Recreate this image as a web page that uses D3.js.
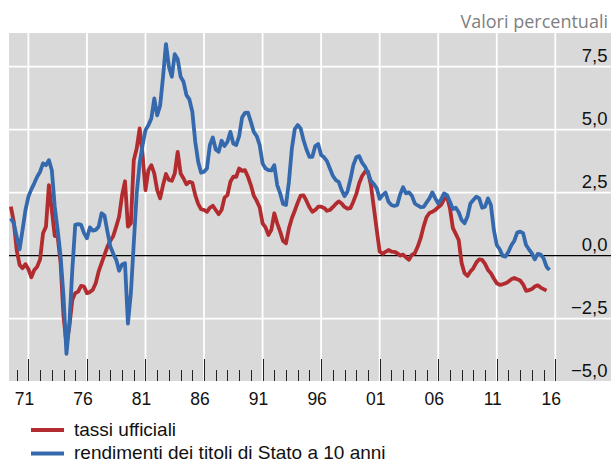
<!DOCTYPE html>
<html>
<head>
<meta charset="utf-8">
<style>
  body { margin: 0; background: #fff; }
  svg { display: block; font-family: "Liberation Sans", Arial, sans-serif; }
</style>
</head>
<body>
<svg width="611" height="464"></svg>
<script src="https://cdn.jsdelivr.net/npm/d3@7"></script>
<script>
// quarterly observations, first one at 1970 Q1
const startYear = 1970;
const stepYears = 0.25;

const tassiUfficiali = [
  1.94, 1.35, 0.22, -0.37, -0.50, -0.34, -0.54, -0.86, -0.57, -0.44,
  -0.15, 0.89, 1.15, 2.80, 1.81, 0.78, 0.75, -0.30, -2.42, -3.50,
  -2.81, -1.76, -1.49, -1.43, -1.20, -1.23, -1.49, -1.45, -1.36, -1.10,
  -0.63, -0.30, 0.03, 0.36, 0.59, 0.78, 1.15, 1.55, 2.40, 2.95,
  1.15, 1.28, 3.79, 4.25, 5.05, 4.00, 2.60, 3.39, 3.59, 3.26,
  2.60, 2.27, 2.80, 3.24, 3.00, 2.97, 3.26, 4.12, 3.26, 3.06,
  2.83, 2.93, 2.89, 2.40, 2.05, 1.84, 1.81, 1.74, 1.90, 1.98,
  1.81, 1.64, 1.81, 2.30, 2.40, 2.93, 3.13, 3.13, 3.46, 3.36,
  3.39, 3.13, 2.80, 2.38, 2.17, 1.92, 1.28, 1.12, 0.82, 1.02,
  1.68, 1.28, 0.95, 0.58, 0.49, 1.08, 1.48, 1.78, 2.10, 2.38,
  2.39, 2.17, 1.92, 1.74, 1.81, 1.94, 1.94, 1.89, 1.78, 1.81,
  1.92, 2.05, 2.15, 2.07, 1.93, 1.86, 1.88, 2.14, 2.44, 2.87,
  3.16, 3.33, 3.33, 2.80, 1.92, 1.02, 0.16, 0.07, 0.15, 0.22,
  0.16, 0.15, 0.09, 0.00, 0.04, -0.07, -0.17, 0.03, 0.09, 0.36,
  0.69, 1.15, 1.52, 1.69, 1.74, 1.81, 1.92, 2.02, 2.23, 2.34,
  1.88, 1.10, 0.86, 0.62, -0.30, -0.70, -0.81, -0.63, -0.50, -0.28,
  -0.15, -0.17, -0.33, -0.57, -0.70, -0.91, -1.10, -1.16, -1.14, -1.10,
  -1.03, -0.94, -0.89, -0.94, -0.99, -1.14, -1.40, -1.37, -1.33, -1.23,
  -1.18, -1.27, -1.33, -1.39
];

const rendimentiTitoli = [
  1.48, 1.28, 0.75, 0.25, 1.02, 1.81, 2.34, 2.63, 2.87, 3.13,
  3.33, 3.66, 3.59, 3.79, 3.39, 1.94, 1.02, -0.04, -1.62, -3.90,
  -2.68, -0.57, 1.22, 1.25, 1.22, 0.89, 0.69, 1.12, 0.99, 1.02,
  1.15, 1.68, 1.59, 0.95, 0.36, 0.07, -0.17, -0.60, -0.35, -0.30,
  -2.70, -1.50, 0.49, 2.47, 3.66, 4.39, 4.98, 5.18, 5.44, 6.24,
  5.57, 5.95, 7.10, 8.40, 7.50, 7.10, 8.00, 7.80, 7.10, 6.90,
  6.37, 6.20, 5.71, 4.52, 3.73, 3.29, 3.33, 3.46, 4.39, 4.69,
  4.21, 4.12, 4.56, 4.35, 4.52, 4.91, 4.45, 4.39, 4.74, 5.48,
  5.67, 5.68, 5.31, 4.91, 4.74, 4.39, 3.66, 3.46, 3.39, 3.38,
  3.59, 2.80, 2.47, 2.05, 2.01, 2.93, 4.25, 5.02, 5.18, 5.05,
  4.58, 4.21, 3.92, 3.92, 4.35, 4.43, 3.99, 3.90, 3.75, 3.46,
  3.17, 3.00, 2.93, 2.60, 2.36, 2.54, 3.03, 3.59, 3.90, 3.95,
  3.69, 3.53, 3.29, 2.97, 2.84, 2.67, 2.25, 2.40, 2.50, 2.14,
  2.01, 1.97, 2.01, 2.43, 2.71, 2.47, 2.51, 2.38, 2.07, 1.99,
  1.92, 1.93, 2.10, 2.27, 2.51, 2.27, 2.07, 2.23, 2.47, 2.40,
  2.14, 1.85, 1.90, 1.72, 1.41, 1.28, 1.55, 2.07, 2.21, 2.34,
  2.27, 1.90, 1.94, 2.27, 2.01, 1.02, 0.42, 0.25, -0.01, -0.04,
  0.15, 0.41, 0.59, 0.91, 0.95, 0.89, 0.42, 0.25, 0.09, -0.15,
  0.07, 0.04, -0.11, -0.44, -0.57
];

const seriesNames = ["tassi ufficiali", "rendimenti dei titoli di Stato a 10 anni"];
const seriesColors = ["#b22b2e", "#3569ae"];
const labelYears = [1971, 1976, 1981, 1986, 1991, 1996, 2001, 2006, 2011, 2016];
const yearLabels = ["71", "76", "81", "86", "91", "96", "01", "06", "11", "16"];
const valueTicks = [-5, -2.5, 0, 2.5, 5, 7.5];
const unitLabel = "Valori percentuali";

const svg = d3.select("svg");
const panel = { left: 9, right: 611, top: 33, bottom: 381 };

// label years sit at mid-year
const x = d3.scaleLinear().domain([1971.5, 2016.5]).range([28.4, 555.3]);
const y = d3.scaleLinear().domain([-5, 7.5]).range([381.5, 66.7]);

svg.append("rect")
  .attr("x", panel.left).attr("y", panel.top)
  .attr("width", panel.right - panel.left).attr("height", panel.bottom - panel.top)
  .attr("fill", "#d9d9d9");

// white grid
svg.append("g").selectAll("line")
  .data(valueTicks.filter(d => d !== 0 && d !== -5))
  .join("line")
  .attr("x1", panel.left).attr("x2", panel.right)
  .attr("y1", d => y(d)).attr("y2", d => y(d))
  .attr("stroke", "#fff").attr("stroke-width", 1.8);

svg.append("g").selectAll("line")
  .data(labelYears)
  .join("line")
  .attr("x1", d => x(d + 0.5)).attr("x2", d => x(d + 0.5))
  .attr("y1", panel.top).attr("y2", panel.bottom)
  .attr("stroke", "#fff").attr("stroke-width", 1.8);

// year ticks at the bottom of the panel
const allYears = d3.range(1970, 2017);
svg.append("g").selectAll("line")
  .data(allYears)
  .join("line")
  .attr("x1", d => Math.round(x(d + 0.5)) + 0.5).attr("x2", d => Math.round(x(d + 0.5)) + 0.5)
  .attr("y1", d => labelYears.includes(d) ? panel.bottom - 22 : panel.bottom - 11)
  .attr("y2", panel.bottom)
  .attr("stroke", "#222").attr("stroke-width", 1);

svg.append("g").selectAll("text")
  .data(labelYears)
  .join("text")
  .attr("x", d => x(d + 0.5) - 4)
  .attr("y", 405)
  .attr("text-anchor", "middle")
  .attr("font-size", 17.5)
  .attr("fill", "#111")
  .text((d, i) => yearLabels[i]);

// value labels on the right
const fmt = v => d3.format(".1f")(v).replace(".", ",").replace("-", "\u2212");
svg.append("g").selectAll("text")
  .data(valueTicks)
  .join("text")
  .attr("x", 607.5)
  .attr("y", d => y(d) - 5)
  .attr("text-anchor", "end")
  .attr("font-size", 18.5)
  .attr("fill", "#111")
  .text(fmt);

svg.append("line")
  .attr("x1", panel.left).attr("x2", panel.right)
  .attr("y1", y(0)).attr("y2", y(0))
  .attr("stroke", "#000").attr("stroke-width", 1.3);

// series
const toPoints = arr => arr.map((v, i) => [startYear + i * stepYears, v]);
const line = d3.line().x(d => x(d[0])).y(d => y(d[1]));
[tassiUfficiali, rendimentiTitoli].forEach((s, i) => {
  svg.append("path")
    .datum(toPoints(s))
    .attr("fill", "none")
    .attr("stroke", seriesColors[i])
    .attr("stroke-width", 3.8)
    .attr("stroke-linejoin", "round")
    .attr("d", line);
});

svg.append("text")
  .attr("x", 608).attr("y", 28)
  .attr("text-anchor", "end")
  .attr("font-family", "'Open Sans', sans-serif")
  .attr("font-size", 18)
  .attr("fill", "#7f7f7f")
  .text(unitLabel);

// legend
const legend = svg.append("g").selectAll("g")
  .data(seriesNames)
  .join("g")
  .attr("transform", (d, i) => `translate(0, ${430 + i * 23.5})`);
legend.append("line")
  .attr("x1", 31).attr("x2", 64)
  .attr("stroke", (d, i) => seriesColors[i])
  .attr("stroke-width", 4);
legend.append("text")
  .attr("x", 74).attr("y", 5.5)
  .attr("font-size", 19)
  .attr("fill", "#111")
  .text(d => d);
</script>
</body>
</html>
